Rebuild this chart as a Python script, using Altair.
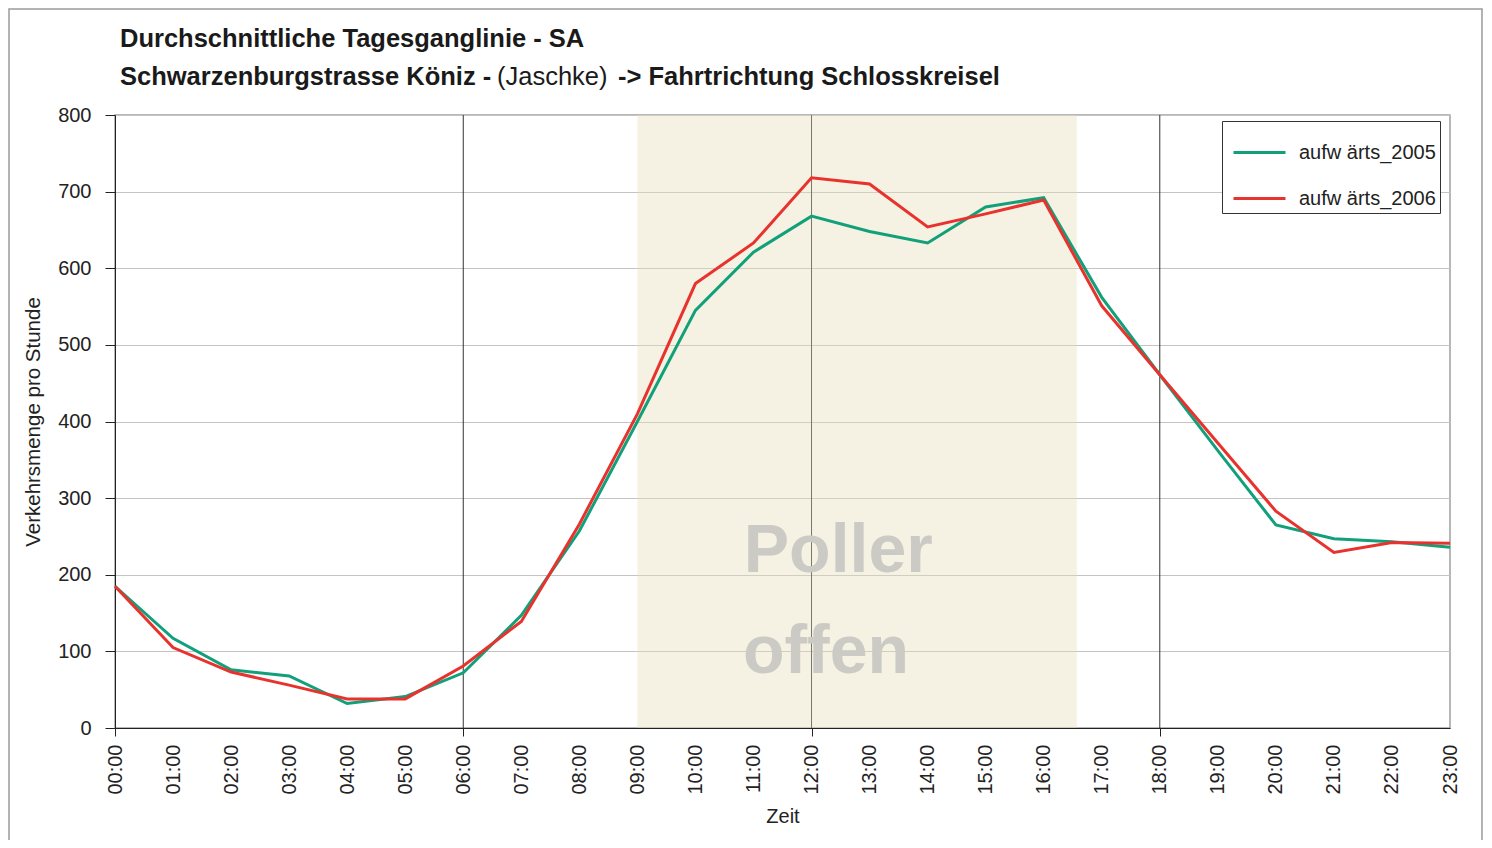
import altair as alt
import pandas as pd

hours = list(range(24))
v2005 = [185, 117, 76, 68, 32, 41, 72, 147, 257, 400, 545, 621, 668, 648, 633, 680, 692, 562, 461, 362, 265, 247, 243, 236]
v2006 = [185, 105, 73, 56, 38, 38, 81, 139, 266, 410, 580, 633, 718, 710, 654, 671, 689, 551, 461, 372, 283, 229, 242, 241]
series = ["aufw ärts_2005", "aufw ärts_2006"]
colors = ["#12a07a", "#e8322e"]

shade_start, shade_end = 9.0, 16.57
vlines = [6, 12, 18]
poller_labels = ["Poller", "offen"]
poller_x = [12.46, 12.25]
poller_y = [204, 72]

title_line1 = "Durchschnittliche Tagesganglinie - SA"
title_line2_a = "Schwarzenburgstrasse Köniz -"
title_line2_b = "(Jaschke)"
title_line2_c = "-> Fahrtrichtung Schlosskreisel"

FONT = "Liberation Sans, Arial"

rows = []
for h, a, b in zip(hours, v2005, v2006):
    rows.append({"h": h, "v": a, "s": series[0]})
    rows.append({"h": h, "v": b, "s": series[1]})
df = pd.DataFrame(rows)

xs = alt.Scale(domain=[0, 23], nice=False, zero=False)
ys = alt.Scale(domain=[0, 800], nice=False)

W, H = 1335, 613
one = pd.DataFrame({"a": [0]})

frame = alt.Chart(one).mark_rect(
    fill=None, stroke="#9a9a9a", strokeWidth=1.5
).encode(x=alt.value(-106), x2=alt.value(1367), y=alt.value(-106), y2=alt.value(760))


def title_text(txt, x, y, weight):
    return alt.Chart(one).mark_text(
        text=txt, font=FONT, fontSize=25.5, fontWeight=weight, color="#1a1a1a",
        align="left", baseline="alphabetic",
    ).encode(x=alt.value(x), y=alt.value(y))


t1 = title_text(title_line1, 5, -68, "bold")
t2 = title_text(title_line2_a, 5, -30, "bold")
t3 = title_text(title_line2_b, 382, -30, "normal")
t4 = title_text(title_line2_c, 503, -30, "bold")

vr = alt.Chart(pd.DataFrame({"h": vlines})).mark_rule(color="#333333", strokeWidth=1).encode(
    x=alt.X("h:Q", scale=xs)
)

shade = alt.Chart(pd.DataFrame({"a": [shade_start], "b": [shade_end]})).mark_rect(
    fill="#e6dfb8", opacity=0.4
).encode(
    x=alt.X("a:Q", scale=xs), x2="b:Q", y=alt.value(0), y2=alt.value(H)
)

poller = alt.Chart(pd.DataFrame({"t": poller_labels, "x": poller_x, "y": poller_y})).mark_text(
    font=FONT, fontSize=68, fontWeight="bold", color="#cbcac4", align="center", baseline="alphabetic"
).encode(x=alt.X("x:Q", scale=xs), y=alt.Y("y:Q", scale=ys), text="t:N")

lines = alt.Chart(df).mark_line(strokeWidth=3).encode(
    x=alt.X(
        "h:Q", scale=xs, title="Zeit",
        axis=alt.Axis(
            values=hours, grid=False, labelAngle=-90,
            labelExpr="(datum.value < 10 ? '0' : '') + datum.value + ':00'",
            tickSize=8, tickColor="#222",
            tickOpacity={"condition": {"test": "datum.value % 6 === 0", "value": 1}, "value": 0},
            labelPadding=8, titlePadding=12, domainColor="#222",
        ),
    ),
    y=alt.Y(
        "v:Q", scale=ys, title="Verkehrsmenge pro Stunde",
        axis=alt.Axis(
            values=list(range(0, 801, 100)), grid=True, gridColor="#c4c4c4",
            tickSize=10, tickColor="#222", labelPadding=14, titlePadding=14, domainColor="#222",
            titleFontSize=20.5,
        ),
    ),
    color=alt.Color(
        "s:N", scale=alt.Scale(domain=series, range=colors), title=None,
        legend=alt.Legend(
            orient="none", legendX=1107, legendY=6, fillColor="white", strokeColor="#333",
            padding=4, rowPadding=8, symbolOffset=6, labelOffset=12,
            symbolType="stroke", symbolSize=2704, symbolStrokeWidth=3,
            labelFontSize=20, labelFont=FONT, labelColor="#222", labelLimit=300,
        ),
    ),
)

chart = alt.layer(frame, t1, t2, t3, t4, vr, shade, poller, lines).properties(
    width=W, height=H,
    autosize=alt.AutoSizeParams(type="none"),
    padding={"left": 107, "top": 107, "right": 34, "bottom": 112},
).configure_view(stroke="#a0a0a0", strokeWidth=1.5).configure_axis(
    labelFont=FONT, titleFont=FONT, labelFontSize=20, titleFontSize=20,
    labelColor="#222", titleColor="#222", titleFontWeight="normal",
)

chart.save("out.html", embed_options={"renderer": "svg", "actions": False})
